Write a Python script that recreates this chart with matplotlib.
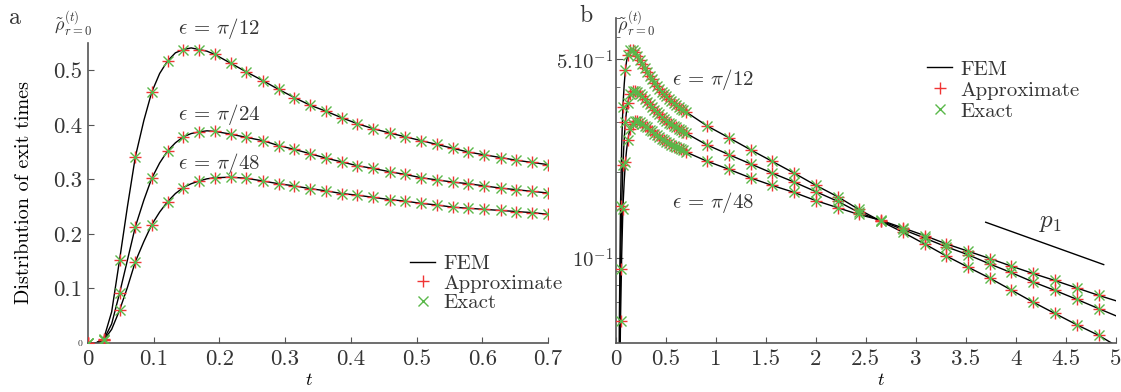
import matplotlib
matplotlib.use("Agg")
import matplotlib.pyplot as plt
import numpy as np

W, H = 1121, 392
INK = "#353535"; AXC = "#555555"; RED = "#f03434"; GREEN = "#5ab84a"
plt.rcParams.update({"font.family": "serif", "font.serif": ["cmr10"], "mathtext.fontset": "cm",
    "axes.unicode_minus": False, "font.size": 15, "text.color": INK,
    "xtick.color": AXC, "ytick.color": AXC, "xtick.labelcolor": INK, "ytick.labelcolor": INK,
    "xtick.labelsize": 16.5, "ytick.labelsize": 16.5,
    "axes.edgecolor": AXC, "axes.linewidth": 1.2,
    "xtick.direction": "in", "ytick.direction": "in"})

# ---- panel a: sampled times and exit-time densities (eps = pi/12, pi/24, pi/48) ----
t_a = [0.000, 0.024, 0.048, 0.072, 0.097, 0.121, 0.145, 0.169, 0.193, 0.217,
       0.241, 0.266, 0.290, 0.314, 0.338, 0.362, 0.386, 0.410, 0.434, 0.459,
       0.483, 0.507, 0.531, 0.555, 0.579, 0.603, 0.628, 0.652, 0.676, 0.700]
rho12 = [0.000, 0.008, 0.152, 0.341, 0.460, 0.517, 0.538, 0.538, 0.529, 0.513,
         0.497, 0.481, 0.465, 0.450, 0.436, 0.425, 0.413, 0.402, 0.393, 0.385,
         0.378, 0.371, 0.364, 0.357, 0.350, 0.345, 0.340, 0.335, 0.331, 0.327]
rho24 = [0.000, 0.006, 0.091, 0.213, 0.302, 0.352, 0.378, 0.387, 0.388, 0.383,
         0.377, 0.371, 0.362, 0.355, 0.347, 0.339, 0.332, 0.325, 0.320, 0.314,
         0.309, 0.303, 0.299, 0.295, 0.292, 0.288, 0.284, 0.281, 0.278, 0.275]
rho48 = [0.000, 0.005, 0.060, 0.149, 0.217, 0.259, 0.285, 0.297, 0.303, 0.304,
         0.302, 0.297, 0.292, 0.288, 0.283, 0.279, 0.274, 0.271, 0.267, 0.263,
         0.260, 0.256, 0.253, 0.249, 0.247, 0.245, 0.243, 0.241, 0.239, 0.236]

# extra FEM samples in the steep rise (between the markers)
t_mid = [0.012, 0.036, 0.060, 0.085, 0.109, 0.133, 0.157, 0.181]
fem12_mid = [0.000, 0.057, 0.250, 0.408, 0.494, 0.532, 0.541, 0.535]
fem24_mid = [0.000, 0.035, 0.152, 0.262, 0.330, 0.367, 0.384, 0.389]
fem48_mid = [0.000, 0.025, 0.102, 0.186, 0.240, 0.274, 0.292, 0.301]

# ---- panel b: later (sparser) samples, log scale ----
t_b = [0.91, 1.13, 1.35, 1.56, 1.78, 2.00, 2.22, 2.43, 2.65, 2.87,
       3.09, 3.30, 3.52, 3.74, 3.95, 4.17, 4.39, 4.61, 4.83]
late12 = [0.292, 0.265, 0.240, 0.219, 0.199, 0.180, 0.164, 0.148, 0.1345, 0.1230,
          0.1117, 0.1016, 0.0927, 0.0847, 0.0771, 0.0698, 0.0636, 0.0580, 0.0532]
late24 = [0.250, 0.231, 0.214, 0.199, 0.185, 0.171, 0.158, 0.1445, 0.135, 0.1257,
          0.1172, 0.1094, 0.1025, 0.0950, 0.0887, 0.0822, 0.0767, 0.0713, 0.0661]
late48 = [0.219, 0.205, 0.191, 0.180, 0.170, 0.159, 0.150, 0.142, 0.1355, 0.1274,
          0.1196, 0.1120, 0.1055, 0.0993, 0.0935, 0.0880, 0.0831, 0.0782, 0.0736]
t_end = 5.0
fem_end = [0.049, 0.0624, 0.0705]

# reference slope p1
p1_t = [3.70, 4.88]
p1_y = [0.1333, 0.0945]

series = [(rho12, fem12_mid, late12, fem_end[0]),
          (rho24, fem24_mid, late24, fem_end[1]),
          (rho48, fem48_mid, late48, fem_end[2])]


def fem_line(rho, mid):
    t = np.array(t_a + t_mid); y = np.array(rho + mid)
    o = np.argsort(t)
    return t[o], y[o]


def draw(ax, tl, yl, tm, ym, first):
    ax.plot(tl, yl, color="k", lw=1.0, label="FEM" if first else None, zorder=2)
    ax.plot(tm, ym, "+", color=RED, ms=9, mew=1.0, label="Approximate" if first else None, zorder=3)
    ax.plot(tm, ym, "x", color=GREEN, ms=6.5, mew=1.0, label="Exact" if first else None, zorder=4)


def clean(ax):
    for s in ("top", "right"): ax.spines[s].set_visible(False)


fig = plt.figure(figsize=(W / 100, H / 100), dpi=100)
axA = fig.add_axes([88 / W, 49 / H, 460 / W, 300 / H])
axB = fig.add_axes([615.7 / W, 49 / H, 500 / W, 325 / H])

for i, (rho, mid, late, end) in enumerate(series):
    tl, yl = fem_line(rho, mid)
    draw(axA, tl, yl, t_a, rho, i == 0)
    draw(axB, np.r_[tl, t_b, t_end], np.r_[yl, late, end], t_a + t_b, rho + late, i == 0)

EPS = r"$\epsilon\,=\,\pi/%d$"

# panel a styling
axA.set_xlim(0, 0.7); axA.set_ylim(0, 0.55)
axA.set_xticks(np.arange(0, 0.71, 0.1))
axA.set_xticklabels(["0", "0.1", "0.2", "0.3", "0.4", "0.5", "0.6", "0.7"])
axA.set_yticks([0, 0.1, 0.2, 0.3, 0.4, 0.5])
axA.set_yticklabels(["0", "0.1", "0.2", "0.3", "0.4", "0.5"])
axA.get_yticklabels()[0].set_fontsize(7)
axA.tick_params(axis="x", length=4, pad=5)
axA.tick_params(axis="y", length=4, pad=4)
axA.set_xlabel("$t$", fontsize=13); axA.xaxis.set_label_coords(0.48, -0.097)
axA.set_ylabel("Distribution of exit times", fontsize=14.5); axA.yaxis.set_label_coords(-0.12, 0.5)
clean(axA)
axA.text(0.1994, 0.577, EPS % 12, ha="center", va="center", fontsize=15)
axA.text(0.1994, 0.419, EPS % 24, ha="center", va="center", fontsize=15)
axA.text(0.1994, 0.330, EPS % 48, ha="center", va="center", fontsize=15)
axA.legend(loc="upper left", bbox_to_anchor=(0.70, 0.295), frameon=False, borderpad=0,
           borderaxespad=0, handlelength=1.2, handletextpad=0.4, labelspacing=0.05, fontsize=15)

# panel b styling
axB.set_yscale("log")
axB.set_xlim(0, 5); axB.set_ylim(0.05, 0.7)
axB.set_xticks(np.arange(0, 5.01, 0.5))
axB.set_xticklabels(["0", "0.5", "1", "1.5", "2", "2.5", "3", "3.5", "4", "4.5", "5"])
axB.set_yticks([0.1, 0.5]); axB.set_yticklabels([r"$10^{-1}$", r"$5.10^{-1}$"])
axB.set_yticks([0.06, 0.07, 0.08, 0.09, 0.2, 0.3, 0.4, 0.6, 0.7], minor=True)
axB.set_yticklabels([], minor=True)
axB.tick_params(axis="x", length=4, pad=5)
axB.tick_params(axis="y", which="major", length=5, pad=2, labelsize=15)
axB.tick_params(axis="y", which="minor", length=3)
axB.set_xlabel("$t$", fontsize=13); axB.xaxis.set_label_coords(0.53, -0.089)
clean(axB)
axB.plot(p1_t, p1_y, color="k", lw=1.0)
axB.text(4.35, 0.1329, "$p_1$", ha="center", va="center", fontsize=18)
axB.text(0.973, 0.425, EPS % 12, ha="center", va="center", fontsize=15)
axB.text(0.973, 0.156, EPS % 48, ha="center", va="center", fontsize=15)
axB.legend(loc="upper left", bbox_to_anchor=(0.623, 0.871), frameon=False, borderpad=0,
           borderaxespad=0, handlelength=1.2, handletextpad=0.4, labelspacing=0.12, fontsize=15)

# panel letters and y-axis quantity labels
fig.text(15 / W, 1 - 18 / H, "a", ha="center", va="center", fontsize=17)
fig.text(586 / W, 1 - 16 / H, "b", ha="center", va="center", fontsize=17)
fig.text(73 / W, 1 - 24 / H, r"$\tilde{\rho}^{(t)}_{r=0}$", ha="center", va="center", fontsize=13)
fig.text(636 / W, 1 - 24 / H, r"$\tilde{\rho}^{(t)}_{r=0}$", ha="center", va="center", fontsize=13)

fig.savefig("out.png", dpi=100)
